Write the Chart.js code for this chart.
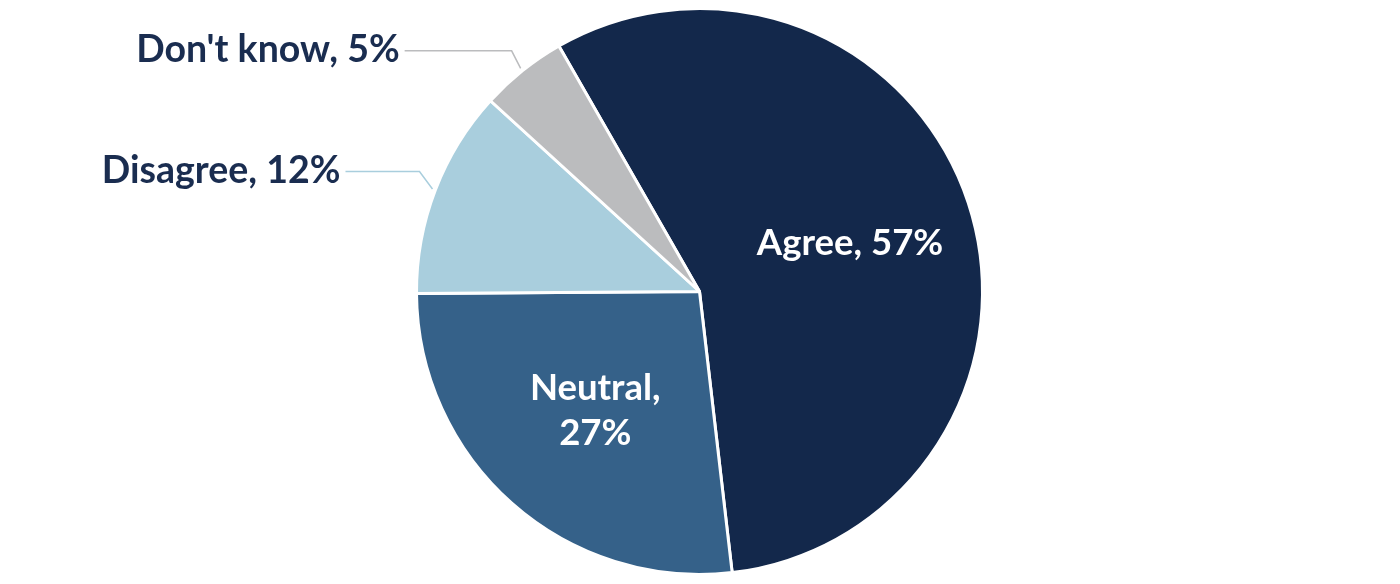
<!DOCTYPE html>
<html>
<head>
<meta charset="utf-8">
<script src="https://cdn.jsdelivr.net/npm/chart.js@4.4.1/dist/chart.umd.min.js"></script>
<style>
  html, body { margin: 0; padding: 0; background: #ffffff; }
  #wrap { width: 1400px; height: 584px; position: relative; }
</style>
</head>
<body>
<div id="wrap"><canvas id="c" width="1400" height="584"></canvas></div>
<script>
// ---- data ----
const categories = ["Agree", "Neutral", "Disagree", "Don't know"];
const values = [57, 27, 12, 5];
const labelLines = [["Agree, 57%"], ["Neutral,", "27%"], ["Disagree, 12%"], ["Don't know, 5%"]];
const sliceColors = ["#13284b", "#356189", "#a9cedd", "#bbbcbe"];

// label placement styles (not data)
const labelStyle = [
  { inside: true, r: 0.56, color: "#ffffff", size: 36.5 },
  { inside: true, r: 0.556, color: "#ffffff", size: 36.5 },
  { inside: false, kx: -13, ky: -17.5, run: 74, color: "#1a2d50", line: "#a9cedd", size: 37.5 },
  { inside: false, kx: -9, ky: -17.5, run: 107, color: "#1a2d50", line: "#bbbcbe", size: 37.5 }
];

const labelPlugin = {
  id: "sliceLabels",
  afterDatasetsDraw(chart) {
    const ctx = chart.ctx;
    const meta = chart.getDatasetMeta(0);
    ctx.save();
    ctx.textBaseline = "alphabetic";
    meta.data.forEach((arc, i) => {
      const st = labelStyle[i];
      ctx.font = "bold " + st.size + "px Lato";
      const capOff = st.size * 0.358;
      const p = arc.getProps(["x", "y", "startAngle", "endAngle", "outerRadius"], true);
      const mid = (p.startAngle + p.endAngle) / 2;
      const R = p.outerRadius;
      const lines = labelLines[i];
      if (st.inside) {
        const cx = p.x + Math.cos(mid) * R * st.r;
        const cy = p.y + Math.sin(mid) * R * st.r;
        ctx.fillStyle = st.color;
        ctx.textAlign = "center";
        const lh = 44.5;
        const top = cy - (lines.length - 1) * lh / 2;
        lines.forEach((t, k) => ctx.fillText(t, cx, top + k * lh + capOff));
      } else {
        const ex = p.x + Math.cos(mid) * (R + 3);
        const ey = p.y + Math.sin(mid) * (R + 3);
        const bx = ex + st.kx;
        const by = ey + st.ky;
        const hx = bx - st.run;
        ctx.strokeStyle = st.line;
        ctx.lineWidth = 1.5;
        ctx.beginPath();
        ctx.moveTo(ex, ey);
        ctx.lineTo(bx, by);
        ctx.lineTo(hx, by);
        ctx.stroke();
        ctx.fillStyle = st.color;
        ctx.textAlign = "right";
        ctx.fillText(lines[0], hx - 5, by - 1.8 + capOff);
      }
    });
    ctx.restore();
  }
};

function draw() {
  new Chart(document.getElementById("c"), {
    type: "pie",
    data: {
      labels: categories,
      datasets: [{
        data: values,
        backgroundColor: sliceColors,
        borderColor: "#ffffff",
        borderWidth: 3,
        hoverOffset: 0
      }]
    },
    options: {
      responsive: false,
      devicePixelRatio: 1,
      animation: false,
      rotation: -29.8,
      layout: { padding: { top: 7, bottom: 8, left: 415, right: 416 } },
      plugins: {
        legend: { display: false },
        tooltip: { enabled: false }
      },
      events: []
    },
    plugins: [labelPlugin]
  });
}

if (document.fonts && document.fonts.load) {
  Promise.all([document.fonts.load("bold 36px Lato")]).then(draw, draw);
} else {
  draw();
}
</script>
</body>
</html>
